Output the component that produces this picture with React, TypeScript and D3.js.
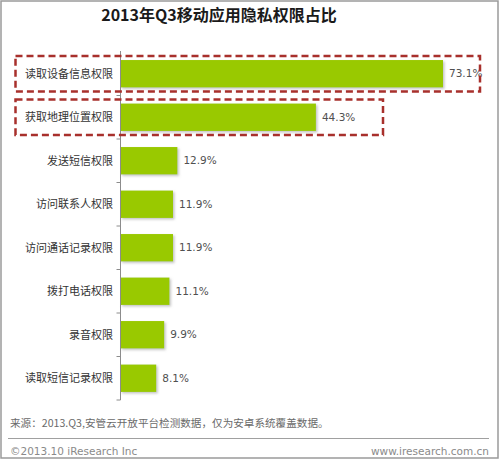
import React from 'react';
import * as d3 from 'd3';

const categories = [
    '读取设备信息权限',
    '获取地理位置权限',
    '发送短信权限',
    '访问联系人权限',
    '访问通话记录权限',
    '拨打电话权限',
    '录音权限',
    '读取短信记录权限',
];
const shares = [73.1, 44.3, 12.9, 11.9, 11.9, 11.1, 9.9, 8.1];
// the two rows picked out with a dashed frame
const highlighted = [0, 1];

const title = '2013年Q3移动应用隐私权限占比';
const sourceNote = '来源：2013.Q3,安管云开放平台检测数据，仅为安卓系统覆盖数据。';
const copyright = '©2013.10 iResearch Inc';
const website = 'www.iresearch.com.cn';

const width = 500;
const height = 461;
const cjk = '"Noto Sans CJK SC", "Noto Sans", sans-serif';

const App: React.FC = () => {
    const axisX = 120.5;

    const xScale = d3.scaleLinear().domain([0, 73.1]).range([axisX, 443]);
    const yScale = d3.scaleBand<string>()
        .domain(categories)
        .range([52, 400])
        .paddingInner(0.37)
        .paddingOuter(0.185);

    const step = yScale.step();
    const bandTop = (i: number) => (yScale(categories[i]) ?? 0);
    const boundaries = d3.range(categories.length + 1).map(i => 52 + i * step);

    // dashed frame reaches past the value label of its row
    const frameRight = [480, 383];

    return (
        <svg width={width} height={height} style={{ position: 'absolute', left: 0, top: 0, background: '#fff' }}>
            <defs>
                <filter id="barShadow" x="-5%" y="-10%" width="115%" height="140%">
                    <feDropShadow dx="1.5" dy="1.5" stdDeviation="1" floodColor="#888" floodOpacity="0.5" />
                </filter>
            </defs>

            <rect x={1} y={1} width={width - 3} height={height - 4} fill="#fff" stroke="#9a9a9a" strokeWidth={1.5} />

            <text x={219} y={21} textAnchor="middle" fontFamily={cjk} fontWeight="bold" fontSize={16} fill="#1a1a1a">
                {title}
            </text>

            {/* bars */}
            {shares.map((v, i) => (
                <rect key={`bar-${i}`}
                    x={axisX}
                    y={bandTop(i)}
                    width={xScale(v) - axisX}
                    height={yScale.bandwidth()}
                    fill="#99c900"
                    filter="url(#barShadow)" />
            ))}

            {/* category axis */}
            <line x1={axisX} x2={axisX} y1={51} y2={400} stroke="#8c8c8c" strokeWidth={1} />
            {boundaries.slice(1).map((y, i) => (
                <line key={`tick-${i}`} x1={axisX - 4} x2={axisX} y1={y} y2={y} stroke="#8c8c8c" strokeWidth={1} />
            ))}

            {categories.map((c, i) => (
                <text key={`cat-${i}`}
                    x={113}
                    y={bandTop(i) + yScale.bandwidth() / 2}
                    dy="0.35em"
                    textAnchor="end"
                    fontFamily={cjk}
                    fontSize={11}
                    fill="#333">
                    {c}
                </text>
            ))}

            {shares.map((v, i) => (
                <text key={`val-${i}`}
                    x={xScale(v) + 6}
                    y={bandTop(i) + yScale.bandwidth() / 2}
                    dy="0.35em"
                    fontFamily='"DejaVu Sans", sans-serif'
                    fontSize={10.5}
                    fill="#505050">
                    {`${v.toFixed(1)}%`}
                </text>
            ))}

            {highlighted.map((i, k) => (
                <rect key={`frame-${i}`}
                    x={15.5}
                    y={bandTop(i) - 4}
                    width={frameRight[k] - 15.5}
                    height={yScale.bandwidth() + 8}
                    fill="none"
                    stroke="#a8302c"
                    strokeWidth={2.5}
                    strokeDasharray="7 4" />
            ))}

            <text x={10} y={427} fontFamily={cjk} fontSize={10.6} fill="#6a6a6a">{sourceNote}</text>
            <line x1={8} x2={489} y1={438.5} y2={438.5} stroke="#a0a0a0" strokeWidth={1} />
            <text x={10} y={455} fontFamily='"DejaVu Sans", sans-serif' fontSize={10.5} fill="#8a8a8a">{copyright}</text>
            <text x={489} y={455} textAnchor="end" fontFamily='"DejaVu Sans", sans-serif' fontSize={10.5} fill="#8a8a8a">{website}</text>
        </svg>
    );
};

export default App;
